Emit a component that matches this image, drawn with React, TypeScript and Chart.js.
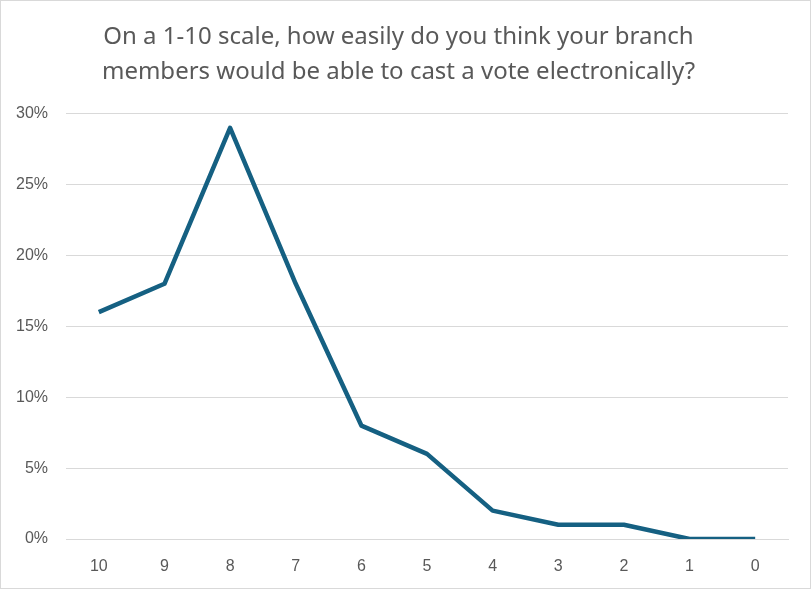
import { useEffect, useRef } from "react";
import { Chart, registerables, ChartOptions, ChartData } from "chart.js";

Chart.register(...registerables);

// rating scale, high to low as in the survey sheet
const ratings = ["10", "9", "8", "7", "6", "5", "4", "3", "2", "1", "0"];
// share of respondents for each rating
const shares = [0.16, 0.18, 0.29, 0.18, 0.08, 0.06, 0.02, 0.01, 0.01, 0, 0];
const titleLines = [
  "On a 1-10 scale, how easily do you think your branch",
  "members would be able to cast a vote electronically?",
];

export default function App() {
  const canvasRef = useRef<HTMLCanvasElement | null>(null);

  useEffect(() => {
    if (!canvasRef.current) return;
    const ctx = canvasRef.current.getContext("2d");
    if (!ctx) return;

    const data: ChartData<"line", number[], string> = {
      labels: ratings,
      datasets: [
        {
          data: shares,
          borderColor: "#156082",
          borderWidth: 4.5,
          pointRadius: 0,
          tension: 0,
          borderJoinStyle: "round",
        },
      ],
    };

    const options: ChartOptions<"line"> = {
      animation: false,
      responsive: false,
      layout: { padding: { left: 8, right: 22, top: 0, bottom: 0 } },
      plugins: {
        legend: { display: false },
        tooltip: { enabled: false },
        title: {
          display: true,
          text: titleLines,
          color: "#595959",
          font: { family: "Noto Sans", size: 24, weight: "normal", lineHeight: 1.45 },
          padding: { top: 19, bottom: 24 },
        },
      },
      scales: {
        x: {
          offset: true,
          grid: { display: false, drawTicks: false },
          border: { display: true, color: "#d9d9d9", width: 1 },
          ticks: {
            color: "#595959",
            font: { family: "Liberation Sans", size: 16 },
            padding: 18,
          },
          afterFit: (scale) => {
            scale.height = 49;
          },
        },
        y: {
          min: 0,
          max: 0.3,
          grid: { color: "#d9d9d9", lineWidth: 1, drawTicks: false },
          border: { display: false },
          ticks: {
            stepSize: 0.05,
            color: "#595959",
            font: { family: "Liberation Sans", size: 16 },
            padding: 18,
            callback: (v) => Math.round(Number(v) * 100) + "%",
          },
          afterFit: (scale) => {
            scale.width = 57;
          },
        },
      },
    };

    const chart = new Chart(ctx, { type: "line", data, options });
    return () => chart.destroy();
  }, []);

  return (
    <div
      style={{
        position: "fixed",
        left: 0,
        top: 0,
        width: 811,
        height: 589,
        boxSizing: "border-box",
        border: "1px solid #d9d9d9",
        background: "#fff",
      }}
    >
      <canvas ref={canvasRef} width={809} height={587} style={{ display: "block" }} />
    </div>
  );
}
